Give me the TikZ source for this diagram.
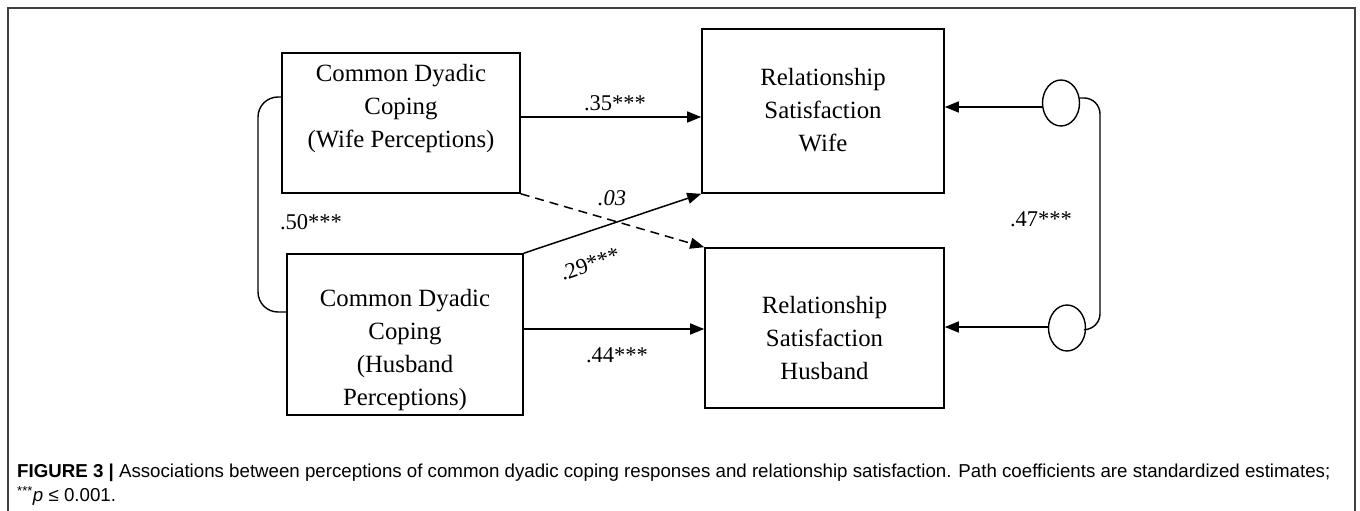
\documentclass[tikz,border=0pt]{standalone}
\usepackage{fontspec}
\setmainfont{Liberation Serif}
\newfontfamily\capfont{Liberation Sans}
\usetikzlibrary{arrows.meta,shapes.geometric,calc}
\begin{document}
\begin{tikzpicture}[x=1pt,y=-1pt,
  box/.style={draw,line width=1.6pt,rectangle,inner sep=0pt},
  boxtext/.style={align=center,font=\fontsize{24.8}{33}\selectfont,inner sep=0pt},
  coef/.style={font=\fontsize{22.5}{24}\selectfont,inner sep=0pt},
  arr/.style={line width=1.5pt,-{Triangle[length=14pt,width=11pt]}},
  err/.style={draw,line width=1.4pt,ellipse,minimum width=37pt,minimum height=46pt,inner sep=0pt},
  frame/.style={line width=1.4pt,draw=black!75}]
\useasboundingbox (0,0) rectangle (1360,511);
% outer frame
\draw[frame] (8,511) -- (8,8) -- (1355,8) -- (1355,511);
% boxes
\node[box,minimum width=238pt,minimum height=140pt] (A) at (401,123) {};
\node[box,minimum width=236pt,minimum height=161pt] (B) at (405,334.5) {};
\node[box,minimum width=242pt,minimum height=164pt] (C) at (823,111) {};
\node[box,minimum width=239pt,minimum height=160pt] (D) at (824.5,328) {};
\node[boxtext] (At) at (401,109) {Common Dyadic\\Coping\\(Wife Perceptions)};
\node[boxtext] (Bt) at (405,350) {Common Dyadic\\Coping\\(Husband\\Perceptions)};
\node[boxtext] (Ct) at (823,110) {Relationship\\Satisfaction\\Wife};
\node[boxtext] (Dt) at (824.5,338) {Relationship\\Satisfaction\\Husband};
% error terms
\node[err] (e1) at (1061,103) {};
\node[err] (e2) at (1067,328) {};
% paths
\draw[arr] (A.east |- 0,117) -- (C.west |- 0,117);
\draw[arr] (B.east |- 0,329) -- (D.west |- 0,329);
\draw[arr] (B.north east) -- (C.south west);
\draw[arr,dashed,dash pattern=on 9pt off 6pt] (A.south east) -- (D.north west);
\draw[arr] (e1.west |- 0,107) -- (C.east |- 0,107);
\draw[arr] (e2.west |- 0,327) -- (D.east |- 0,327);
% correlations
\coordinate (lx) at (258,0);
\coordinate (rx) at (1100,0);
\draw[line width=1.4pt,rounded corners=20pt] (A.west |- 0,97) -| (lx |- 0,312) -- (B.west |- 0,312);
\draw[line width=1.4pt,rounded corners=16pt] (e1.15) -| (rx |- e2.-5) -- (e2.-5);
% labels
\node[coef] (l35) at (615,103) {.35***};
\node[coef] (l44) at (617,355) {.44***};
\node[coef,rotate=19] (l29) at (590,264) {.29***};
\node[coef] (l03) at (612,198) {\itshape .03};
\node[coef] (l50) at (311,222) {.50***};
\node[coef] (l47) at (1041,219) {.47***};
% caption
\node[anchor=west,inner sep=0pt,font=\capfont\fontsize{18.7}{23}\selectfont] (cap1) at (17,473)
  {\textbf{FIGURE 3 |} Associations between perceptions of common dyadic coping responses and relationship satisfaction. Path coefficients are standardized estimates;};
\node[anchor=west,inner sep=0pt,font=\capfont\fontsize{18.7}{23}\selectfont] (cap2) at (17,496)
  {\textsuperscript{***}\textit{p} ≤ 0.001.};
\end{tikzpicture}
\end{document}
